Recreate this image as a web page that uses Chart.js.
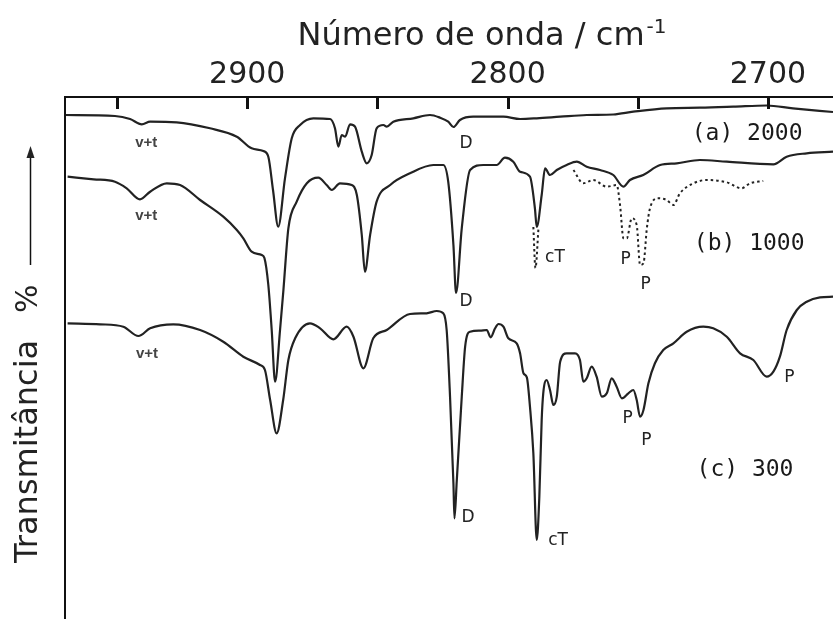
<!DOCTYPE html>
<html>
<head>
<meta charset="utf-8">
<script src="https://cdn.jsdelivr.net/npm/chart.js@4.4.1/dist/chart.umd.min.js"></script>
<style>
  html, body { margin: 0; padding: 0; background: #fff; overflow: hidden; }
  #espectro { display: block; }
</style>
</head>
<body>
<canvas id="espectro" width="833" height="619"></canvas>
<script>
// ----------------------
// DADOS (número de onda / cm-1, transmitância em unidades arbitrárias)
// ----------------------
const curvaA = [
  [2970, 504], [2950.8, 503], [2945, 500], [2940.5, 494.7], [2937.3, 497.3], [2927.1, 496.7],
  [2914.3, 490.7], [2904, 482.3], [2898.3, 470.7], [2893.8, 468], [2891.9, 462.3], [2890.1, 429],
  [2888.1, 392.3], [2885.5, 440.7], [2882.9, 480.7], [2879.7, 494], [2874.6, 500.7], [2868.2, 500],
  [2866.3, 490.7], [2865, 472.3], [2863.7, 484], [2862.4, 482.3], [2860.5, 494.7], [2858.6, 492.3],
  [2856, 467.3], [2854.1, 455.7], [2852.2, 464], [2850.3, 490.7], [2847.7, 494], [2846.4, 492.3],
  [2843.9, 497.3], [2836.2, 500.7], [2829.8, 504], [2825.9, 501.3], [2822.8, 497.3], [2820.8, 492],
  [2818.3, 499], [2813.2, 502.3], [2801.6, 502.3], [2795.2, 500], [2788.8, 500.7], [2779.8, 502.3],
  [2769.6, 504], [2759.4, 504.5], [2751.7, 507.3], [2738.9, 510.7], [2726.1, 511.3], [2713.3, 512.3],
  [2700.5, 513.5], [2690.4, 510.7], [2675, 507]
];

const curvaB = [
  [2969, 442.3], [2959, 439.7], [2950.8, 437.3], [2946.3, 430.7], [2941.2, 419.7], [2937.3, 427.3],
  [2930.9, 435.7], [2925.8, 434], [2918.1, 419], [2909.2, 402.3], [2904, 389], [2901.5, 380.7],
  [2898.3, 367.3], [2894.4, 364], [2893.4, 361], [2891.9, 334], [2890.6, 289], [2889.3, 237.3],
  [2887.4, 289], [2886.1, 329], [2884.2, 390.7], [2881, 417.3], [2877.1, 435.7], [2872.7, 441.3],
  [2869.5, 434], [2867.5, 429], [2864.4, 435.7], [2859.9, 434], [2857.9, 424], [2856, 384],
  [2854.8, 347.3], [2852.8, 384], [2850.3, 417.3], [2845.1, 434], [2837.5, 445.7], [2828.5, 454],
  [2824.7, 454], [2822.8, 437.3], [2820.8, 374], [2819.8, 326], [2817.6, 390.7], [2814.4, 449],
  [2809.3, 454], [2804.2, 454], [2801, 461.3], [2797.8, 457.3], [2795.2, 447.3], [2791.4, 442.3],
  [2789.5, 410.7], [2788.8, 392], [2786.9, 424], [2785.6, 450.7], [2783.7, 444], [2781.1, 449],
  [2777.3, 454], [2773.4, 457.3], [2769.6, 452.3], [2764.5, 449], [2759.4, 444], [2755.5, 432.3],
  [2753, 439], [2747.9, 444], [2741.4, 454], [2735, 455.7], [2726.1, 459], [2715.8, 457.3],
  [2697.9, 454.7], [2692.8, 462.3], [2685.1, 465.7], [2675, 467.3]
];

// prolongamento tracejado da banda cT em (b)
const curvaBcT = [[2790.1, 392], [2789.3, 351], [2788.1, 392]];

// bandas P tracejadas em (b)
const curvaBP = [
  [2774.7, 449], [2770.9, 435.7], [2767.1, 439], [2761.9, 432.3], [2758.1, 434], [2756.8, 414],
  [2755.5, 380.7], [2754.2, 380.7], [2752.3, 400.7], [2750.4, 394], [2749.1, 354], [2747.8, 355.7],
  [2746.5, 390.7], [2745.3, 410.7], [2742.1, 420.7], [2738.9, 419], [2736.3, 414], [2733.8, 425.7],
  [2728.6, 435.7], [2723.5, 439], [2715.8, 436.7], [2710.1, 430.7], [2706.9, 435.7], [2701.8, 438]
];

const curvaC = [
  [2969, 295.7], [2956.5, 294.7], [2947.6, 292.3], [2941.8, 283], [2937.3, 290.7], [2928.4, 294.7],
  [2918.1, 289], [2909.2, 277.3], [2901.5, 262.3], [2895.1, 254], [2893.2, 249], [2891.2, 219],
  [2888.7, 185.7], [2886.2, 219], [2884.2, 259], [2881.6, 280.7], [2875.9, 295.7], [2872, 290.7],
  [2866.9, 279.7], [2861.8, 292.3], [2859.2, 282.3], [2855.4, 250.7], [2851.6, 280.7], [2846.4, 289],
  [2837.5, 305], [2831.1, 305.7], [2827.2, 308], [2824.7, 305.7], [2823.4, 289], [2822.1, 222.3],
  [2820.8, 135.7], [2820.4, 100.7], [2819.5, 139], [2817.6, 222.3], [2816.3, 272.3], [2814.4, 287.3],
  [2810.6, 288.3], [2808, 289], [2806.5, 281.7], [2804.8, 290.7], [2803.5, 295], [2801.6, 292.3],
  [2799.7, 280.7], [2796.5, 275.7], [2795.2, 265.7], [2793.9, 245.7], [2792.6, 241.7], [2791.4, 212.3],
  [2790.1, 165.7], [2788.8, 79], [2787.8, 122.3], [2786.9, 199], [2786.3, 225.7], [2785, 239],
  [2783.7, 229], [2782.4, 214], [2781.1, 222.3], [2779.8, 257.3], [2777.3, 265.7], [2774.1, 265.7],
  [2772.2, 259], [2770.9, 237.3], [2769.6, 240.7], [2767.7, 252.3], [2765.8, 242.3], [2763.8, 222.3],
  [2761.9, 225.7], [2760, 240.7], [2758.1, 232.3], [2756.1, 220.7], [2753.6, 225.7], [2751.7, 229],
  [2750.4, 219], [2749.1, 202.3], [2747.8, 209], [2745.9, 235.7], [2743.4, 255.7], [2740.2, 269],
  [2736.3, 275.7], [2731.2, 287.3], [2724.8, 292.3], [2721, 290.7], [2715.8, 282.3], [2710.7, 265.7],
  [2705.6, 259], [2700.5, 242.3], [2697.9, 247.3], [2695.4, 262.3], [2692.8, 289], [2688.9, 309],
  [2685.1, 317.3], [2680, 321.7], [2675, 322.3]
];

const marcasX = [2950, 2900, 2850, 2800, 2750, 2700];
const rotulosX = [2900, 2800, 2700];

// anotações [texto, número de onda, transmitância, tipo]
const anotacoes = [
  ['v+t', 2938.8, 476, 'vt'], ['v+t', 2938.8, 403, 'vt'], ['v+t', 2938.5, 265, 'vt'],
  ['D', 2816.0, 475, 'banda'], ['D', 2816.0, 317, 'banda'], ['D', 2815.2, 101, 'banda'],
  ['cT', 2781.8, 361, 'banda'], ['cT', 2780.6, 78, 'banda'],
  ['P', 2754.7, 359, 'banda'], ['P', 2747.0, 334, 'banda'],
  ['P', 2753.9, 200, 'banda'], ['P', 2746.7, 178, 'banda'], ['P', 2691.8, 241, 'banda'],
  ['(a) 2000', 2708.0, 485, 'amostra'], ['(b) 1000', 2707.2, 375, 'amostra'], ['(c) 300', 2708.8, 149, 'amostra']
];

// ----------------------
// GRÁFICO
// ----------------------
const corLinha = '#222';
const pontos = arr => arr.map(([x, y]) => ({ x, y }));

function serie(dados, tracejado) {
  return {
    data: pontos(dados),
    borderColor: corLinha,
    borderWidth: tracejado ? 2 : 2.2,
    borderDash: tracejado ? [2.5, 3] : [],
    pointRadius: 0,
    fill: false,
    cubicInterpolationMode: 'monotone'
  };
}

const eixosPlugin = {
  id: 'eixos',
  afterDraw(chart) {
    const { ctx, chartArea, scales } = chart;
    const sx = scales.x, sy = scales.y;
    ctx.save();

    // linhas dos eixos
    ctx.strokeStyle = '#111';
    ctx.lineWidth = 2;
    ctx.beginPath();
    ctx.moveTo(chartArea.left, chartArea.bottom);
    ctx.lineTo(chartArea.left, chartArea.top);
    ctx.lineTo(chartArea.right, chartArea.top);
    ctx.stroke();

    // marcas para dentro
    ctx.lineWidth = 3;
    marcasX.forEach(v => {
      const x = Math.round(sx.getPixelForValue(v)) + 0.5;
      ctx.beginPath();
      ctx.moveTo(x, chartArea.top);
      ctx.lineTo(x, chartArea.top + 12);
      ctx.stroke();
    });

    // rótulos do eixo x
    ctx.fillStyle = '#222';
    ctx.font = '30px "DejaVu Sans"';
    ctx.textAlign = 'center';
    ctx.textBaseline = 'alphabetic';
    rotulosX.forEach(v => ctx.fillText(String(v), sx.getPixelForValue(v), 83));

    // título do eixo x com expoente
    const principal = 'Número de onda / cm';
    const expoente = '-1';
    ctx.font = '32px "DejaVu Sans"';
    const w1 = ctx.measureText(principal).width;
    ctx.font = '20px "DejaVu Sans"';
    const w2 = ctx.measureText(expoente).width;
    const x0 = 482 - (w1 + w2 + 2) / 2;
    ctx.textAlign = 'left';
    ctx.font = '32px "DejaVu Sans"';
    ctx.fillText(principal, x0, 45);
    ctx.font = '20px "DejaVu Sans"';
    ctx.fillText(expoente, x0 + w1 + 2, 33);

    // título do eixo y
    ctx.save();
    ctx.translate(37, 563);
    ctx.rotate(-Math.PI / 2);
    ctx.font = '32px "DejaVu Sans"';
    ctx.textAlign = 'left';
    ctx.fillText('Transmitância', 0, 0);
    ctx.font = '30px "DejaVu Sans"';
    ctx.fillText('%', 250, 0);
    ctx.restore();

    // seta
    ctx.lineWidth = 1.5;
    ctx.beginPath();
    ctx.moveTo(30.5, 265);
    ctx.lineTo(30.5, 155);
    ctx.stroke();
    ctx.beginPath();
    ctx.moveTo(30.5, 146);
    ctx.lineTo(26.5, 158);
    ctx.lineTo(34.5, 158);
    ctx.closePath();
    ctx.fill();

    // anotações
    ctx.textAlign = 'center';
    ctx.textBaseline = 'middle';
    anotacoes.forEach(([txt, wn, t, tipo]) => {
      if (tipo === 'vt') { ctx.font = 'bold 15px "Liberation Sans"'; ctx.fillStyle = '#444'; }
      else if (tipo === 'banda') { ctx.font = '17px "DejaVu Sans"'; ctx.fillStyle = '#222'; }
      else { ctx.font = '23px "DejaVu Sans Mono"'; ctx.fillStyle = '#1a1a1a'; }
      ctx.fillText(txt, sx.getPixelForValue(wn), sy.getPixelForValue(t));
    });

    ctx.restore();
  }
};

new Chart(document.getElementById('espectro').getContext('2d'), {
  type: 'line',
  data: {
    datasets: [
      serie(curvaA, false),
      serie(curvaB, false),
      serie(curvaBcT, true),
      serie(curvaBP, true),
      serie(curvaC, false)
    ]
  },
  options: {
    responsive: false,
    animation: false,
    devicePixelRatio: 1,
    layout: { padding: { left: 65, top: 97, right: 0, bottom: 0 } },
    plugins: { legend: { display: false }, tooltip: { enabled: false } },
    scales: {
      x: { type: 'linear', reverse: true, min: 2675, max: 2970, display: false },
      y: { type: 'linear', min: 0, max: 522, display: false }
    }
  },
  plugins: [eixosPlugin]
});
</script>
</body>
</html>
